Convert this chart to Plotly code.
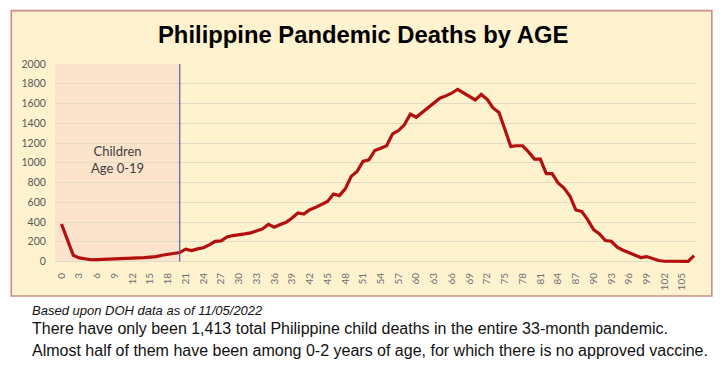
import plotly.graph_objects as go

# ---------------- data ----------------
ages = list(range(0, 108))
deaths = [
    380, 225, 62, 37, 30, 18, 20, 20, 24, 27,        # 0-9
    30, 30, 34, 37, 40, 44, 50, 64, 74, 77,          # 10-19
    91, 125, 111, 128, 140, 168, 205, 209, 249, 263, # 20-29
    269, 280, 290, 306, 330, 377, 347, 374, 397, 441,   # 30-39
    492, 481, 525, 548, 576, 609, 684, 667, 735, 862,   # 40-49
    912, 1013, 1030, 1124, 1148, 1172, 1293, 1326, 1384, 1492,  # 50-59
    1461, 1508, 1555, 1603, 1653, 1677, 1704, 1744, 1710, 1674,  # 60-69
    1636, 1692, 1643, 1555, 1510, 1340, 1165, 1172, 1172, 1110,  # 70-79
    1037, 1037, 889, 889, 795, 744, 664, 522, 508, 424,          # 80-89
    323, 280, 212, 205, 145, 114, 88, 64, 40, 50,               # 90-99
    27, 10, 3, 2, 1, 0, 1, 60,                                  # 100-107
]
x_ticks = list(range(0, 106, 3))
y_ticks = list(range(0, 2001, 200))
children_limit = 20

title_text = "Philippine Pandemic Deaths by AGE"
children_label = "Children<br>Age 0-19"
source_text = "Based upon DOH data as of 11/05/2022"
note_line1 = "There have only been 1,413 total Philippine child deaths in the entire 33-month pandemic."
note_line2 = "Almost half of them have been among 0-2 years of age, for which there is no approved vaccine."

# ---------------- geometry ----------------
W, H = 724, 368
L, R = 55.2, 27.3
y0_px, y2000_px = 262.0, 64.0
ppu = (y0_px - y2000_px) / 2000.0
y_lo, y_hi = -25, 2010
plot_top = y0_px - (y_hi) * ppu
plot_bot = y0_px - (y_lo) * ppu
T = plot_top
B = H - plot_bot
pw = W - L - R
ph = H - T - B


def px(xp):
    return (xp - L) / pw


def py(yp):
    return 1 - (yp - T) / ph


fig = go.Figure()
fig.add_trace(go.Scatter(
    x=ages, y=deaths, mode="lines",
    line=dict(color="#B40F0F", width=3.2),
    hoverinfo="x+y", showlegend=False,
))

shapes = [
    # outer chart box
    dict(type="rect", xref="paper", yref="paper",
         x0=px(11.5), x1=px(711.5), y0=py(296.5), y1=py(10.5),
         fillcolor="#FFF2CF", line=dict(color="#CC8F88", width=1.6), layer="below"),
    # children shading
    dict(type="rect", xref="x", yref="y",
         x0=-1.1, x1=children_limit, y0=0, y1=2000,
         fillcolor="#FCE3CC", line=dict(width=0), layer="below"),
    # vertical divider
    dict(type="line", xref="x", yref="y",
         x0=children_limit, x1=children_limit, y0=0, y1=2000,
         line=dict(color="#4A65A6", width=1.2), layer="above"),
]

annotations = [
    dict(text="<b>" + title_text + "</b>", xref="paper", yref="paper",
         x=px(363), y=py(34), xanchor="center", yanchor="middle", showarrow=False,
         font=dict(family="Liberation Sans, Arial", size=23.8, color="#000000")),
    dict(text=children_label, xref="paper", yref="paper",
         x=px(118), y=py(160), xanchor="center", yanchor="middle", showarrow=False,
         align="center",
         font=dict(family="Lato, Open Sans", size=13, color="#404040")),
    dict(text="<i>" + source_text + "</i>", xref="paper", yref="paper",
         x=px(30), y=py(311), xanchor="left", yanchor="middle", showarrow=False,
         font=dict(family="Liberation Sans, Arial", size=13, color="#111111")),
    dict(text=note_line1, xref="paper", yref="paper",
         x=px(30), y=py(329), xanchor="left", yanchor="middle", showarrow=False,
         font=dict(family="Liberation Sans, Arial", size=16, color="#111111")),
    dict(text=note_line2, xref="paper", yref="paper",
         x=px(30), y=py(351), xanchor="left", yanchor="middle", showarrow=False,
         font=dict(family="Liberation Sans, Arial", size=16, color="#111111")),
]

fig.update_layout(
    width=W, height=H,
    margin=dict(l=L, r=R, t=T, b=B, pad=0),
    paper_bgcolor="#FFFFFF",
    plot_bgcolor="rgba(0,0,0,0)",
    shapes=shapes,
    annotations=annotations,
    showlegend=False,
    xaxis=dict(
        range=[-1.1, 107.5], tickmode="array", tickvals=x_ticks,
        ticktext=[str(v) for v in x_ticks], tickangle=-90,
        showgrid=False, zeroline=False, showline=False,
        ticks="outside", ticklen=4, tickcolor="rgba(0,0,0,0)",
        tickfont=dict(family="Lato, Open Sans", size=10, color="#6F6F6F"),
        fixedrange=True,
    ),
    yaxis=dict(
        range=[y_lo, y_hi], tickmode="array", tickvals=y_ticks,
        showgrid=True, gridcolor="#E4DBC6", gridwidth=1,
        zeroline=False, showline=False,
        ticks="outside", ticklen=6, tickcolor="rgba(0,0,0,0)",
        tickfont=dict(family="Lato, Open Sans", size=10.5, color="#595959"),
        fixedrange=True,
    ),
)

fig.write_html("out.html",
               config={"displayModeBar": False},
               post_script="document.body.style.margin='0';document.body.style.padding='0';")
